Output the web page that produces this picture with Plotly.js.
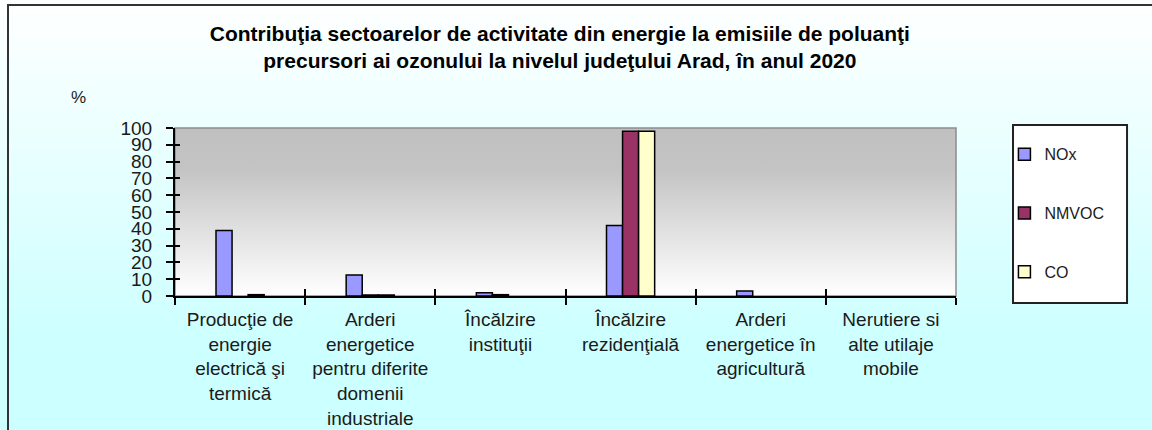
<!DOCTYPE html>
<html>
<head>
<meta charset="utf-8">
<script src="https://cdn.plot.ly/plotly-3.0.1.min.js"></script>
<style>
  html, body { margin: 0; padding: 0; }
  body { width: 1152px; height: 430px; overflow: hidden; position: relative;
         background: linear-gradient(to bottom, #ffffff 0%, #e6ffff 40%, #ccffff 80%, #ccffff 100%); }
  #chart { position: absolute; left: 0; top: 0; width: 1152px; height: 430px; }
  #frame { position: absolute; left: 7px; top: 4px; width: 1160px; height: 440px;
           border-left: 2px solid #333; border-top: 2px solid #333; box-sizing: border-box;
           pointer-events: none; }
</style>
</head>
<body>
<div id="chart"></div>
<div id="frame"></div>
<script>
// ---- data ----
const categories = [
  "Producţie de<br>energie<br>electrică şi<br>termică",
  "Arderi<br>energetice<br>pentru diferite<br>domenii<br>industriale",
  "Încălzire<br>instituţii",
  "Încălzire<br>rezidenţială",
  "Arderi<br>energetice în<br>agricultură",
  "Nerutiere si<br>alte utilaje<br>mobile"
];
const seriesNames = ["NOx", "NMVOC", "CO"];
const noxValues   = [39, 12.5, 2, 42, 3, 0];
const nmvocValues = [0, 0.6, 0.8, 98, 0, 0];
const coValues    = [0.8, 0.6, 0, 98, 0, 0];
const seriesColors = ["#9999FF", "#993366", "#FFFFCC"];
const titleText = "Contribuţia sectoarelor de activitate din energie la emisiile de poluanţi<br>precursori ai ozonului la nivelul judeţului Arad, în anul 2020";

const allValues = [noxValues, nmvocValues, coValues];
const traces = allValues.map((vals, i) => ({
  type: "bar",
  name: seriesNames[i],
  x: categories,
  // zero values are not drawn (no outline) as in the original
  y: vals.map(v => (v === 0 ? null : v)),
  legendgroup: "g" + i,
  marker: { color: seriesColors[i], line: { color: "#000000", width: 1.5 } },
  hoverinfo: "x+y+name"
}));

const FONT = "'Liberation Sans', Arial, Helvetica, sans-serif";

const gradSvg = '<svg xmlns="http://www.w3.org/2000/svg" width="10" height="100" preserveAspectRatio="none">' +
  '<defs><linearGradient id="g" x1="0" y1="0" x2="0" y2="1">' +
  '<stop offset="0" stop-color="#C0C0C0"/><stop offset="0.25" stop-color="#C4C4C4"/><stop offset="1" stop-color="#FFFFFF"/></linearGradient></defs>' +
  '<rect width="10" height="100" fill="url(#g)"/></svg>';
const gradUri = "data:image/svg+xml;base64," + btoa(gradSvg);

const layout = {
  width: 1152,
  height: 430,
  margin: { l: 175, r: 196, t: 128, b: 134 },
  paper_bgcolor: "rgba(0,0,0,0)",
  plot_bgcolor: "rgba(0,0,0,0)",
  font: { family: FONT, color: "#1a1a1a" },
  title: {
    text: titleText,
    font: { family: FONT, size: 21, color: "#000000", weight: "bold" },
    x: 0.486, xanchor: "center",
    y: 0.905, yanchor: "top", yref: "container"
  },
  barmode: "group",
  bargap: 0.63,
  bargroupgap: 0,
  showlegend: true,
  legend: {
    x: 1.062, xanchor: "left",
    y: 0.945, yanchor: "top",
    bgcolor: "rgba(0,0,0,0)",
    borderwidth: 0,
    font: { family: FONT, size: 16, color: "#1a1a1a" },
    tracegroupgap: 35,
    traceorder: "grouped",
    itemwidth: 30
  },
  xaxis: {
    type: "category",
    tickson: "boundaries",
    ticks: "outside",
    ticklen: 7,
    tickwidth: 2,
    tickcolor: "#000",
    showline: true,
    linecolor: "#000",
    linewidth: 2,
    showgrid: false,
    tickfont: { family: FONT, size: 19, color: "#1a1a1a" },
    ticklabelstandoff: 5,
    tickangle: 0,
    fixedrange: true
  },
  xaxis2: {
    type: "category",
    overlaying: "x",
    matches: "x",
    tickson: "boundaries",
    ticks: "inside",
    ticklen: 7,
    tickwidth: 2,
    tickcolor: "#000",
    showticklabels: false,
    showgrid: false,
    showline: false,
    side: "bottom"
  },
  yaxis: {
    range: [0, 100],
    dtick: 10,
    tick0: 0,
    ticks: "outside",
    ticklen: 7,
    tickwidth: 2,
    tickcolor: "#000",
    showline: true,
    linecolor: "#000",
    linewidth: 2,
    showgrid: false,
    zeroline: false,
    tickfont: { family: FONT, size: 19, color: "#1a1a1a" },
    ticklabelstandoff: 10,
    fixedrange: true
  },
  yaxis2: {
    range: [0, 100],
    dtick: 10,
    tick0: 0,
    overlaying: "y",
    side: "left",
    ticks: "inside",
    ticklen: 5,
    tickwidth: 2,
    tickcolor: "#000",
    showticklabels: false,
    showgrid: false,
    zeroline: false,
    showline: false
  },
  images: [{
    source: gradUri,
    xref: "paper", yref: "paper",
    x: 0, y: 1, sizex: 1, sizey: 1,
    xanchor: "left", yanchor: "top",
    sizing: "stretch",
    layer: "below"
  }],
  shapes: [
    { type: "rect", xref: "paper", yref: "paper", x0: 0, x1: 1, y0: 0, y1: 1,
      line: { color: "#8c8c8c", width: 1.5 }, fillcolor: "rgba(0,0,0,0)", layer: "below" },
    { type: "rect", xref: "paper", yref: "paper", x0: 1.073, x1: 1.219, y0: -0.042, y1: 1.018,
      line: { color: "#222", width: 2 }, fillcolor: "#FFFFFF", layer: "below" }
  ],
  annotations: [
    { text: "%", xref: "paper", yref: "paper", x: -0.124, y: 1.179,
      xanchor: "center", yanchor: "middle", showarrow: false,
      font: { family: FONT, size: 17, color: "#1a1a1a" } }
  ]
};

// empty trace to bind the overlay axes (no visible marks)
traces.push({ type: "bar", x: categories, y: [null, null, null, null, null, null],
  xaxis: "x2", yaxis: "y2", showlegend: false, hoverinfo: "skip" });

Plotly.newPlot("chart", traces, layout, { displayModeBar: false, staticPlot: true });
</script>
</body>
</html>
